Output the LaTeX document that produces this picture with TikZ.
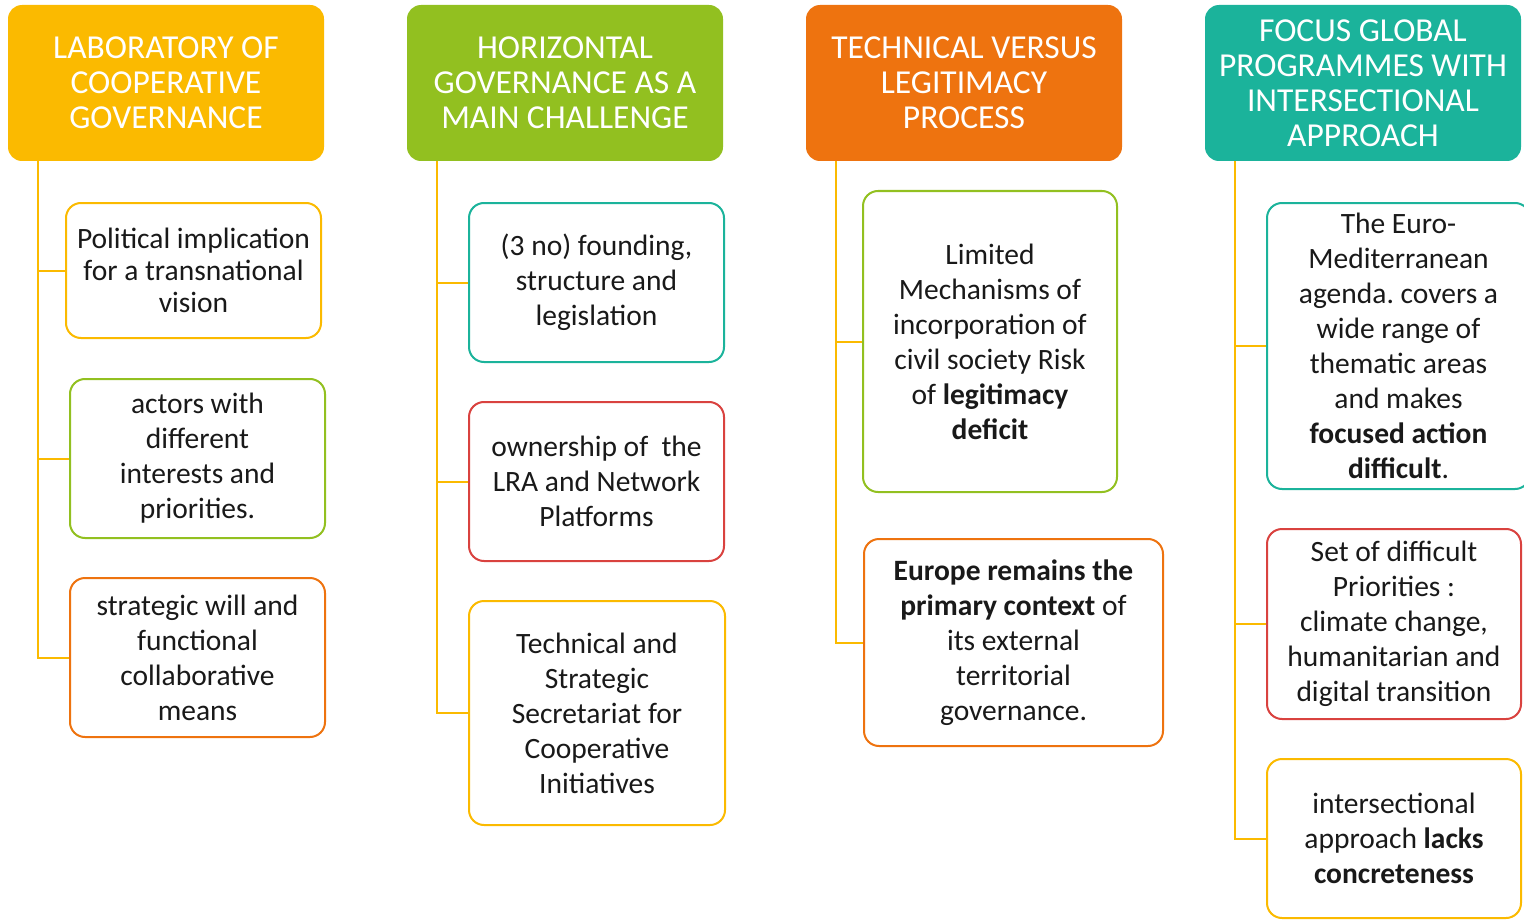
\documentclass[tikz,border=0pt]{standalone}
\usepackage{fontspec}
\setmainfont{Carlito}
\frenchspacing
\usetikzlibrary{positioning}
\definecolor{labyellow}{HTML}{FBBA00}
\definecolor{labgreen}{HTML}{92C020}
\definecolor{laborange}{HTML}{EE730F}
\definecolor{labteal}{HTML}{1BB39B}
\definecolor{labred}{HTML}{D9423F}

\begin{document}
\begin{tikzpicture}[
  x=1pt, y=-1pt,
  head/.style={fill=#1,rounded corners=14pt,text=white,minimum width=316pt,minimum height=156pt,inner sep=0pt,font=\fontsize{33.5}{35}\selectfont},
  item/.style={draw=#1,line width=2pt,rounded corners=15pt,fill=white,text=black!90,inner sep=0pt,font=\fontsize{29.5}{35}\selectfont},
  link/.style={labyellow,line width=2pt},
  every node/.style={align=center}]

  \useasboundingbox (0,0) rectangle (1524,923);

  % Column headers
  \node[head=labyellow] (hlab) at (166,83) {LABORATORY OF\\COOPERATIVE\\GOVERNANCE};
  \node[head=labgreen] (hhor) at (565,83) {HORIZONTAL\\GOVERNANCE AS A\\MAIN CHALLENGE};
  \node[head=laborange] (htec) at (964,83) {TECHNICAL VERSUS\\LEGITIMACY\\PROCESS};
  \node[head=labteal] (hfoc) at (1363,83) {FOCUS GLOBAL\\PROGRAMMES WITH\\INTERSECTIONAL\\APPROACH};

  % Boxes under each header
  \node[item=labyellow,minimum width=255pt,minimum height=135pt,font=\fontsize{29.5}{32}\selectfont] (lab1) at (193.5,270.5) {Political implication\\for a transnational\\vision};
  \node[item=labgreen,minimum width=255pt,minimum height=159pt] (lab2) at (197.5,458.5) {actors with\\different\\interests and\\priorities.};
  \node[item=laborange,minimum width=255pt,minimum height=159pt] (lab3) at (197.5,657.5) {strategic will and\\functional\\collaborative\\means};

  \node[item=labteal,minimum width=255pt,minimum height=159pt] (hor1) at (596.5,282.5) {(3 no) founding,\\structure and\\legislation};
  \node[item=labred,minimum width=255pt,minimum height=159pt] (hor2) at (596.5,481.5) {ownership of\ \ the\\LRA and Network\\Platforms};
  \node[item=labyellow,minimum width=256pt,minimum height=224pt] (hor3) at (597,713) {Technical and\\Strategic\\Secretariat for\\Cooperative\\Initiatives};

  \node[item=labgreen,minimum width=254pt,minimum height=301pt] (tec1) at (990,341.5) {Limited\\Mechanisms of\\incorporation of\\civil society Risk\\of \textbf{legitimacy}\\\textbf{deficit}};
  \node[item=laborange,minimum width=299pt,minimum height=207pt] (tec2) at (1013.5,642.5) {\textbf{Europe remains the}\\\textbf{primary context} of\\its external\\territorial\\governance.};

  \node[item=labteal,minimum width=263pt,minimum height=286pt] (foc1) at (1398.5,346) {The Euro-\\Mediterranean\\agenda. covers a\\wide range of\\thematic areas\\and makes\\\textbf{focused action}\\\textbf{difficult}.};
  \node[item=labred,minimum width=254pt,minimum height=190pt] (foc2) at (1394,624) {Set of difficult\\Priorities :\\climate change,\\humanitarian and\\digital transition};
  \node[item=labyellow,minimum width=254pt,minimum height=159pt] (foc3) at (1394,838.5) {intersectional\\approach \textbf{lacks}\\\textbf{concreteness}};

  % Trunks hanging from the headers
  \coordinate (tlab) at (hlab.south west -| 38,0);
  \coordinate (thor) at (hhor.south west -| 437,0);
  \coordinate (ttec) at (htec.south west -| 836,0);
  \coordinate (tfoc) at (hfoc.south west -| 1235,0);

  \draw[link] (tlab) |- (lab3.west);
  \draw[link] (lab1.west) -- (lab1.west -| tlab);
  \draw[link] (lab2.west) -- (lab2.west -| tlab);

  \draw[link] (thor) |- (hor3.west);
  \draw[link] (hor1.west) -- (hor1.west -| thor);
  \draw[link] (hor2.west) -- (hor2.west -| thor);

  \draw[link] (ttec) |- (tec2.west);
  \draw[link] (tec1.west) -- (tec1.west -| ttec);

  \draw[link] (tfoc) |- (foc3.west);
  \draw[link] (foc1.west) -- (foc1.west -| tfoc);
  \draw[link] (foc2.west) -- (foc2.west -| tfoc);

\end{tikzpicture}
\end{document}
